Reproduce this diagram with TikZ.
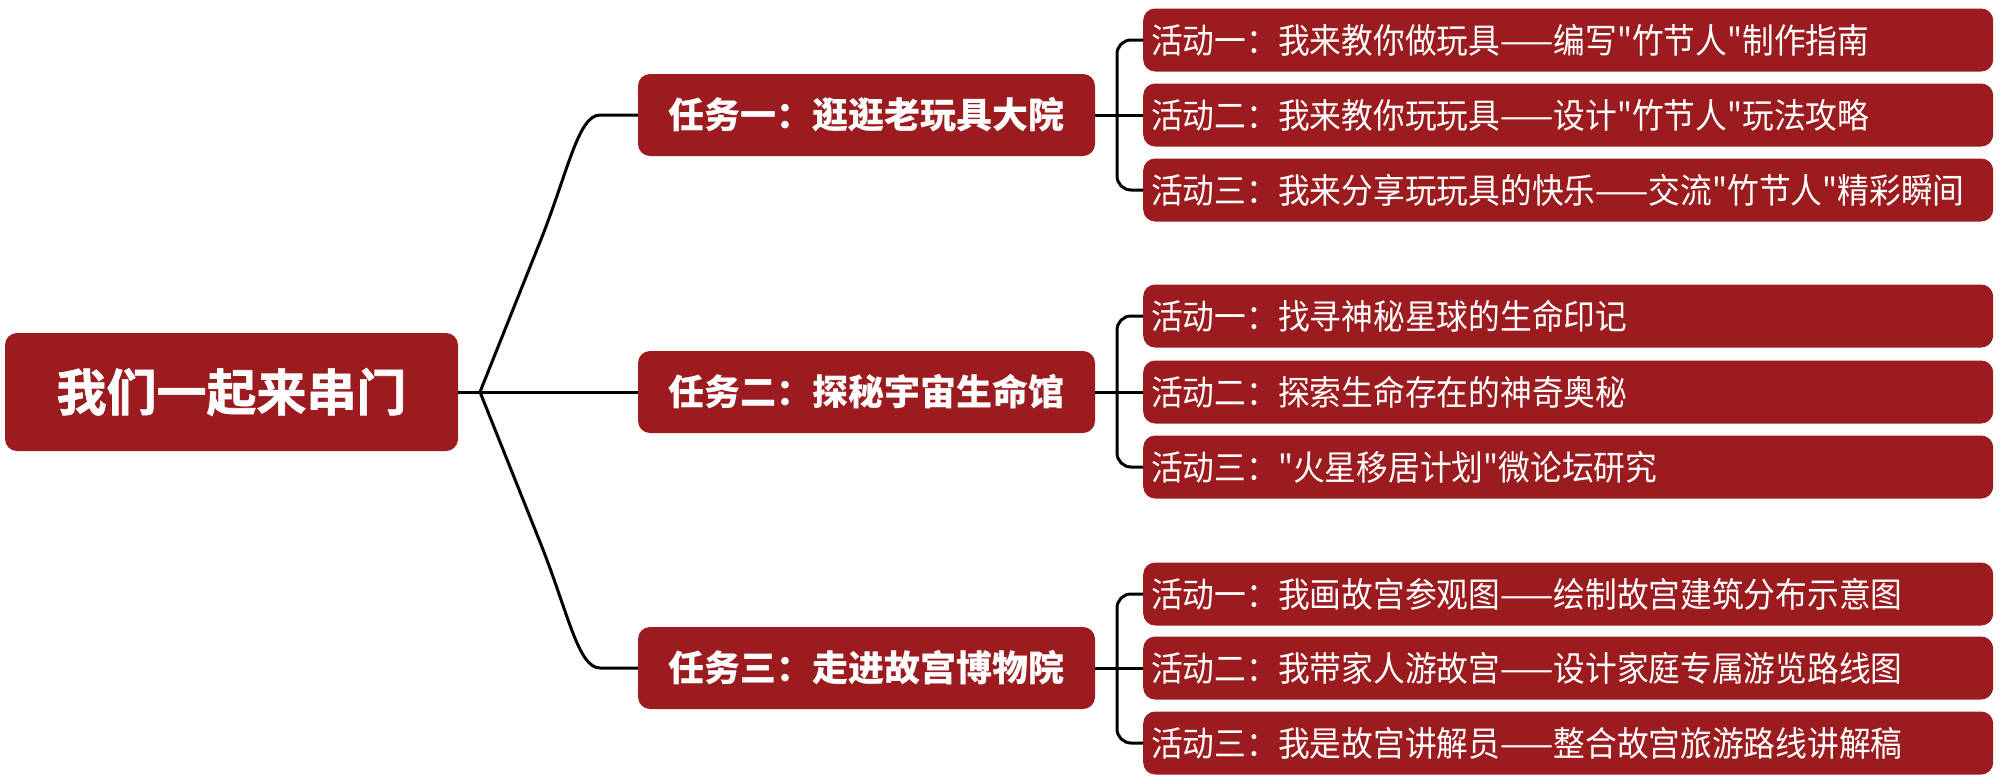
\documentclass[tikz,border=0pt]{standalone}
\usepackage{fontspec}
\newfontfamily\cjk{Noto Sans CJK SC}
\newfontfamily\cjkact[FakeStretch=0.92]{Noto Sans CJK SC}
\newfontfamily\cjkroot[FakeBold=1.2]{Noto Sans CJK SC Bold}
\definecolor{boxred}{RGB}{156,27,30}
\tikzset{
  link/.style={draw=black,line width=3pt},
  rootbox/.style={fill=boxred,rounded corners=12pt,minimum width=453pt,minimum height=118pt,inner sep=0pt,text=white,font=\cjkroot\fontsize{50}{56}\selectfont},
  taskbox/.style={fill=boxred,rounded corners=12pt,minimum width=457pt,minimum height=82pt,inner sep=0pt,text=white,font=\cjk\bfseries\fontsize{36}{42}\selectfont},
  actbox/.style={fill=boxred,rounded corners=12pt,anchor=west,minimum height=63pt,text width=834pt,inner xsep=8pt,inner ysep=0pt,align=left,text=white,font=\cjkact\fontsize{34.5}{40}\selectfont}
}
\begin{document}
\begin{tikzpicture}[x=1pt,y=-1pt]
\useasboundingbox (0,0) rectangle (2000,782);
\node[rootbox] (root) at (231.5,392) {我们一起来串门};
\node[taskbox] (t1) at (866.5,115) {任务一：逛逛老玩具大院};
\node[taskbox] (t2) at (866.5,392) {任务二：探秘宇宙生命馆};
\node[taskbox] (t3) at (866.5,668) {任务三：走进故宫博物院};
% group 1
\node[actbox] (a11) at (1143,40) {活动一：我来教你做玩具——编写"竹节人"制作指南};
\node[actbox] (a12) at (1143,115) {活动二：我来教你玩玩具——设计"竹节人"玩法攻略};
\node[actbox] (a13) at (1143,190) {活动三：我来分享玩玩具的快乐——交流"竹节人"精彩瞬间};
% group 2
\node[actbox] (a21) at (1143,316) {活动一：找寻神秘星球的生命印记};
\node[actbox] (a22) at (1143,392) {活动二：探索生命存在的神奇奥秘};
\node[actbox] (a23) at (1143,467) {活动三："火星移居计划"微论坛研究};
% group 3
\node[actbox] (a31) at (1143,594) {活动一：我画故宫参观图——绘制故宫建筑分布示意图};
\node[actbox] (a32) at (1143,668) {活动二：我带家人游故宫——设计家庭专属游览路线图};
\node[actbox] (a33) at (1143,743) {活动三：我是故宫讲解员——整合故宫旅游路线讲解稿};
% root connectors
\coordinate (b) at (480,392);
\draw[link] (root.east) -- (b) -- (t2.west);
\draw[link] (b) -- (540,242) .. controls (568,172) and (578,115) .. (600,115) -- (t1.west);
\draw[link] (b) -- (540,542) .. controls (568,612) and (578,668) .. (600,668) -- (t3.west);
% group connectors
\coordinate (v1) at (1117,190);
\coordinate (v2) at (1117,467);
\coordinate (v3) at (1117,743);
\draw[link] (t1.east) -- (t1.east -| a12.west);
\draw[link,rounded corners=14pt] (a11.west) -| (v1) -- (a13.west);
\draw[link] (t2.east) -- (t2.east -| a22.west);
\draw[link,rounded corners=14pt] (a21.west) -| (v2) -- (a23.west);
\draw[link] (t3.east) -- (t3.east -| a32.west);
\draw[link,rounded corners=14pt] (a31.west) -| (v3) -- (a33.west);
\end{tikzpicture}
\end{document}
